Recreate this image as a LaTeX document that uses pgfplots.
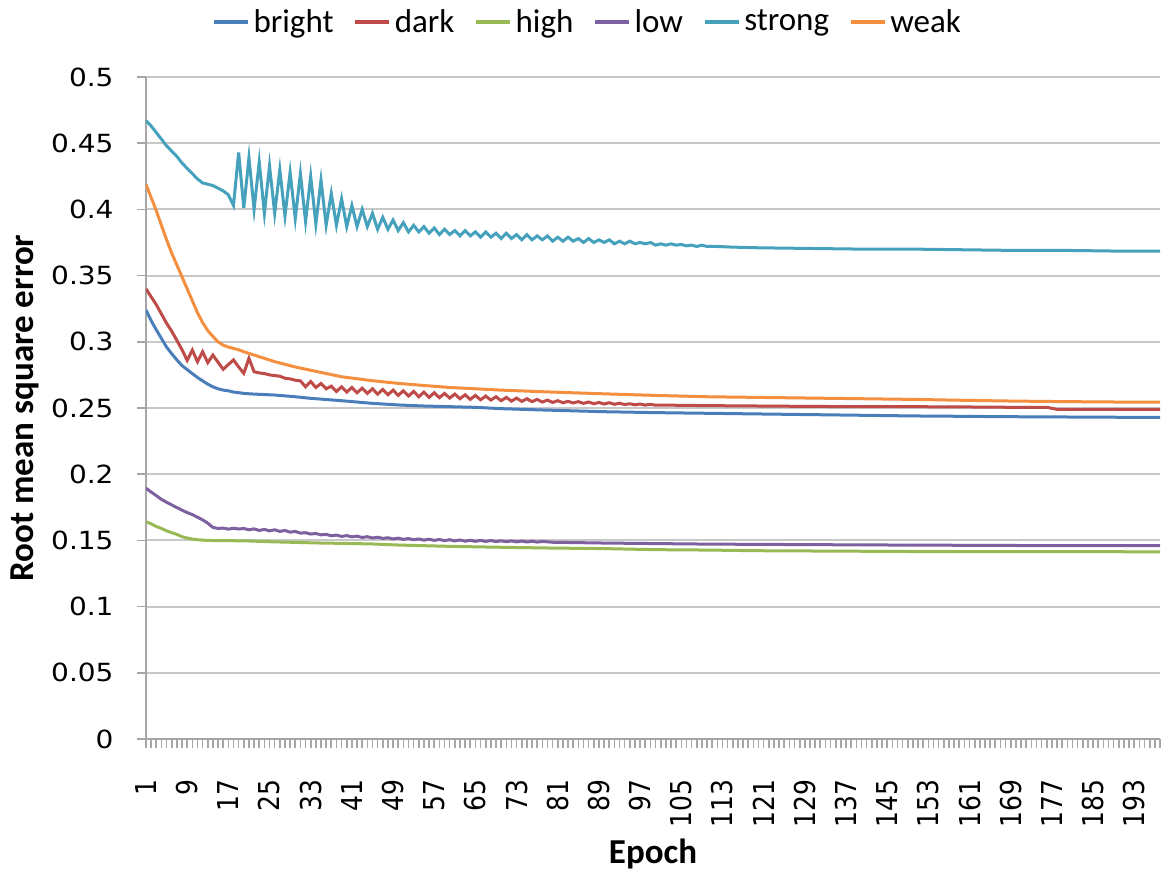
\documentclass[border=0pt]{standalone}
\usepackage{fontspec}
\setmainfont{Carlito}
\newfontfamily\tickfont{DejaVu Sans}
\newcommand\tf{\tickfont\fontsize{12.5}{15}\selectfont}
\usepackage{pgfplots}
\pgfplotsset{compat=1.18}
\definecolor{cbright}{HTML}{4A7EBB}
\definecolor{cdark}{HTML}{BE4B48}
\definecolor{chigh}{HTML}{98B954}
\definecolor{clow}{HTML}{7D60A0}
\definecolor{cstrong}{HTML}{46A1BD}
\definecolor{cweak}{HTML}{F38F3E}
\definecolor{gridgray}{HTML}{C8C8C8}
\definecolor{axisgray}{HTML}{A6A6A6}
\begin{document}
\begin{tikzpicture}
\begin{axis}[
  name=ax,
  scale only axis,
  width=507pt, height=331pt,
  xmin=1, xmax=198, ymin=0, ymax=0.5,
  axis lines*=left,
  axis line style={draw=axisgray, line width=1pt},
  ymajorgrids,
  grid style={draw=gridgray, line width=1pt},
  ytick={0,0.05,0.1,0.15,0.2,0.25,0.3,0.35,0.4,0.45,0.5},
  yticklabels={0,0.05,0.1,0.15,0.2,0.25,0.3,0.35,0.4,0.45,0.5},
  xtick={1,9,17,25,33,41,49,57,65,73,81,89,97,105,113,121,129,137,145,153,161,169,177,185,193},
  xticklabels={1,9,17,25,33,41,49,57,65,73,81,89,97,105,113,121,129,137,145,153,161,169,177,185,193},
  minor xtick={1,2,...,198},
  tick align=outside,
  major tick length=4.5pt,
  minor tick length=4.5pt,
  tick style={draw=axisgray, line width=0.8pt},
  tick label style={font=\tf, inner sep=0pt},
  xticklabel style={rotate=90, anchor=east, xshift=-15.5pt, yscale=1.15},
  yticklabel style={anchor=east, xshift=-11.5pt, xscale=1.12},
  label style={font=\fontsize{17.5}{20}\selectfont\bfseries},
  xlabel={Epoch},
  ylabel={Root mean square error},
  xlabel style={at={(axis description cs:0.5,0)}, anchor=center, yshift=-57.5pt},
  ylabel style={at={(axis description cs:0,0.5)}, anchor=center, yshift=60.5pt},
  legend columns=6,
  legend style={at={(axis description cs:0.4365,1.083)}, anchor=center, draw=none, fill=none,
    font=\fontsize{16.5}{19}\selectfont,
    /tikz/every even column/.append style={column sep=8pt},
    nodes={inner xsep=2pt, inner ysep=1pt}},
  legend image code/.code={\draw[#1, line width=1.6pt] (0pt,0pt) -- (17pt,0pt);},
  every axis plot/.append style={line width=1.5pt, mark=none},
]
% bright
\addplot[color=cbright] coordinates {
(1,0.324) (2,0.316) (3,0.309) (4,0.3025) (5,0.296) (6,0.291) (7,0.2863) (8,0.282) (9,0.279) (10,0.276)
(11,0.273) (12,0.2705) (13,0.268) (14,0.266) (15,0.2645) (16,0.2635) (17,0.263) (18,0.262) (19,0.2616) (20,0.261)
(22,0.2605) (26,0.2598) (30,0.2585) (33,0.2573) (39,0.2555) (45,0.2535) (50,0.2523) (55,0.2515) (60,0.251)
(65,0.2505) (70,0.2495) (78,0.2485) (90,0.2472) (100,0.2465) (110,0.246) (120,0.2455) (130,0.245) (140,0.2445)
(150,0.244) (160,0.2437) (170,0.2434) (180,0.2432) (190,0.243) (198,0.243)
};
\addlegendentry{bright}
% dark
\addplot[color=cdark] coordinates {
(1,0.340) (2,0.334) (3,0.328) (4,0.321) (5,0.314) (6,0.308) (7,0.301) (8,0.294) (9,0.286) (10,0.2938)
(11,0.285) (12,0.2925) (13,0.2843) (14,0.290) (15,0.2845) (16,0.2792) (17,0.2828) (18,0.2863) (19,0.281) (20,0.2762)
(21,0.2875) (22,0.2774) (23,0.2765) (24,0.276) (25,0.275) (26,0.2745) (27,0.274) (28,0.2725) (29,0.272) (30,0.271)
(31,0.2705) (32,0.266) (33,0.270) (34,0.2655) (35,0.2685) (36,0.2645) (37,0.2665) (38,0.2625) (39,0.266) (40,0.262)
(41,0.2655) (42,0.2615) (43,0.265) (44,0.261) (45,0.2645) (46,0.2605) (47,0.264) (48,0.260) (49,0.2635) (50,0.2595)
(51,0.263) (52,0.259) (53,0.2625) (54,0.2585) (55,0.262) (56,0.258) (57,0.2615) (58,0.2578) (59,0.261) (60,0.2575)
(61,0.2605) (62,0.257) (63,0.260) (64,0.2565) (65,0.2595) (66,0.2562) (67,0.259) (68,0.256) (69,0.2585) (70,0.2555)
(71,0.258) (72,0.2552) (73,0.2575) (74,0.255) (75,0.257) (76,0.2548) (77,0.2565) (78,0.2545) (79,0.256) (80,0.2542)
(81,0.2555) (82,0.254) (83,0.255) (84,0.2538) (85,0.2548) (86,0.2535) (87,0.2545) (88,0.2532) (89,0.2542) (90,0.253)
(91,0.254) (92,0.2528) (93,0.2536) (94,0.2526) (95,0.2532) (96,0.2524) (97,0.253) (98,0.2522) (99,0.2528) (100,0.2521)
(102,0.2522) (105,0.252) (110,0.2518) (120,0.2515) (130,0.2512) (140,0.251) (150,0.251) (160,0.2508) (170,0.2505)
(176,0.2505) (178,0.249) (190,0.249) (198,0.249)
};
\addlegendentry{dark}
% high
\addplot[color=chigh] coordinates {
(1,0.1641) (2,0.1625) (3,0.1605) (4,0.159) (5,0.1572) (6,0.1558) (7,0.1545) (8,0.1528) (9,0.1518) (10,0.151)
(11,0.1505) (12,0.1502) (13,0.150) (15,0.1498) (20,0.1497) (25,0.149) (30,0.1485) (35,0.148) (40,0.1477) (45,0.1473)
(50,0.1465) (55,0.146) (60,0.1455) (70,0.1448) (80,0.1442) (90,0.1438) (100,0.143) (110,0.1427) (120,0.1422)
(130,0.142) (150,0.1416) (170,0.1415) (198,0.1414)
};
\addlegendentry{high}
% low
\addplot[color=clow] coordinates {
(1,0.1894) (2,0.1865) (3,0.1838) (4,0.181) (5,0.1788) (6,0.1768) (7,0.1748) (8,0.1728) (9,0.171) (10,0.1695)
(11,0.1675) (12,0.1655) (13,0.163) (14,0.1598) (15,0.159) (16,0.1593) (17,0.1585) (18,0.1592) (19,0.1586) (20,0.1590)
(21,0.1580) (22,0.1587) (23,0.1575) (24,0.1583) (25,0.1572) (26,0.1580) (27,0.1568) (28,0.1575) (29,0.1562) (30,0.1568)
(31,0.1555) (32,0.1558) (33,0.1548) (34,0.1552) (35,0.1542) (36,0.1545) (37,0.1535) (38,0.154) (39,0.153) (40,0.1536)
(41,0.1527) (42,0.1532) (43,0.1522) (44,0.1528) (45,0.1518) (46,0.1524) (47,0.1515) (48,0.152) (49,0.1511) (50,0.1517)
(51,0.1508) (52,0.1514) (53,0.1505) (54,0.1511) (55,0.1502) (56,0.1509) (57,0.1500) (58,0.1507) (59,0.1498) (60,0.1505)
(61,0.1496) (62,0.1503) (63,0.1494) (64,0.1501) (65,0.1493) (66,0.150) (67,0.1492) (68,0.1499) (69,0.1491) (70,0.1497)
(71,0.149) (72,0.1496) (73,0.1489) (74,0.1495) (75,0.1488) (76,0.1494) (77,0.1487) (78,0.1492) (80,0.1486) (85,0.1483)
(90,0.148) (100,0.1476) (110,0.1472) (120,0.147) (140,0.1466) (160,0.1463) (180,0.146) (198,0.146)
};
\addlegendentry{low}
% strong
\addplot[color=cstrong] coordinates {
(1,0.467) (2,0.463) (3,0.458) (4,0.453) (5,0.448) (6,0.444) (7,0.440) (8,0.435) (9,0.431) (10,0.427)
(11,0.423) (12,0.420) (13,0.419) (14,0.418) (15,0.416) (16,0.414) (17,0.411) (18,0.403) (19,0.443) (20,0.401)
(21,0.439) (22,0.400) (23,0.436) (24,0.397) (25,0.433) (26,0.397) (27,0.430) (28,0.395) (29,0.428) (30,0.393)
(31,0.427) (32,0.391) (33,0.425) (34,0.389) (35,0.422) (36,0.388) (37,0.412) (38,0.388) (39,0.408) (40,0.387)
(41,0.403) (42,0.387) (43,0.400) (44,0.387) (45,0.397) (46,0.385) (47,0.394) (48,0.385) (49,0.392) (50,0.384)
(51,0.390) (52,0.383) (53,0.388) (54,0.383) (55,0.387) (56,0.382) (57,0.386) (58,0.381) (59,0.385) (60,0.381)
(61,0.384) (62,0.380) (63,0.384) (64,0.380) (65,0.383) (66,0.379) (67,0.383) (68,0.379) (69,0.382) (70,0.378)
(71,0.382) (72,0.378) (73,0.381) (74,0.377) (75,0.381) (76,0.377) (77,0.380) (78,0.377) (79,0.380) (80,0.376)
(81,0.379) (82,0.376) (83,0.379) (84,0.376) (85,0.378) (86,0.375) (87,0.378) (88,0.375) (89,0.377) (90,0.375)
(91,0.377) (92,0.374) (93,0.376) (94,0.374) (95,0.376) (96,0.374) (97,0.375) (98,0.374) (99,0.375) (100,0.373)
(101,0.374) (102,0.373) (103,0.374) (104,0.373) (105,0.3735) (106,0.3725) (107,0.373) (108,0.372) (109,0.373) (110,0.372)
(112,0.372) (115,0.3715) (120,0.371) (130,0.3705) (140,0.370) (150,0.370) (160,0.3695) (170,0.369) (180,0.369)
(190,0.3685) (198,0.3685)
};
\addlegendentry{strong}
% weak
\addplot[color=cweak] coordinates {
(1,0.419) (2,0.409) (3,0.399) (4,0.388) (5,0.377) (6,0.367) (7,0.358) (8,0.349) (9,0.340) (10,0.331)
(11,0.322) (12,0.3145) (13,0.3085) (14,0.304) (15,0.300) (16,0.2975) (17,0.296) (18,0.295) (19,0.294) (20,0.2925)
(22,0.290) (26,0.285) (30,0.281) (33,0.2785) (39,0.2736) (45,0.2706) (50,0.2686) (55,0.267) (60,0.2655) (65,0.2645)
(70,0.2635) (80,0.262) (90,0.2607) (100,0.2595) (110,0.2585) (120,0.258) (130,0.2575) (140,0.257) (150,0.2565)
(160,0.2558) (170,0.2552) (180,0.2548) (190,0.2545) (198,0.2545)
};
\addlegendentry{weak}
\end{axis}
\pgfresetboundingbox
\path ([shift={(-73pt,-66pt)}]ax.south west) rectangle ([shift={(0.5pt,38.5pt)}]ax.north east);
\end{tikzpicture}
\end{document}
